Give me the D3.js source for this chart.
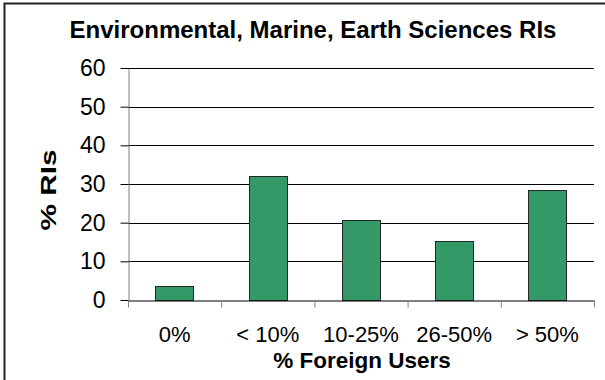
<!DOCTYPE html>
<html>
<head>
<meta charset="utf-8">
<script src="https://cdn.jsdelivr.net/npm/d3@7"></script>
<style>
  body { margin: 0; background: #fff; }
  svg { display: block; font-family: "Liberation Sans", Arial, sans-serif; }
</style>
</head>
<body>
<div id="chart"></div>
<script>
// data
var categories = ["0%", "< 10%", "10-25%", "26-50%", "> 50%"];
var percentRIs = [3.6, 32.0, 20.6, 15.2, 28.4];
var yTicks = [0, 10, 20, 30, 40, 50, 60];

var chartTitle = "Environmental, Marine, Earth Sciences RIs";
var xTitle = "% Foreign Users";
var yTitle = "% RIs";

var W = 605, H = 380;
// plot area inside the frame
var margin = { top: 68, right: 11, bottom: 80, left: 128 };
var width = W - margin.left - margin.right;
var height = H - margin.top - margin.bottom;

var svg = d3.select("#chart").append("svg")
  .attr("width", W)
  .attr("height", H);

// outer frame (only top and left edges land inside the picture)
svg.append("rect")
  .attr("x", 4.5).attr("y", 3.5)
  .attr("width", W + 10).attr("height", H + 10)
  .attr("fill", "none")
  .attr("stroke", "#222")
  .attr("stroke-width", 2);

var g = svg.append("g")
  .attr("transform", "translate(" + margin.left + "," + margin.top + ")");

var x = d3.scaleBand().domain(categories).range([0, width]).paddingInner(0.59).paddingOuter(0.295);
var xEdge = d3.scaleLinear().domain([0, categories.length]).range([0, width]);
var y = d3.scaleLinear().domain([0, 60]).range([height, 0]);

// gridlines
g.append("g")
  .selectAll("line")
  .data(yTicks.filter(function(d) { return d > 0; }))
  .enter().append("line")
  .attr("x1", 0).attr("x2", width)
  .attr("y1", function(d) { return Math.round(y(d)) + 0.5; })
  .attr("y2", function(d) { return Math.round(y(d)) + 0.5; })
  .attr("stroke", "#000");

// bars
g.append("g")
  .selectAll("rect")
  .data(percentRIs)
  .enter().append("rect")
  .attr("x", function(d, i) { return Math.round(x(categories[i])) + 0.5; })
  .attr("y", function(d) { return Math.round(y(d)) + 0.5; })
  .attr("width", Math.round(x.bandwidth()))
  .attr("height", function(d) { return Math.round(height - y(d)); })
  .attr("fill", "#339966")
  .attr("stroke", "#262626")
  .attr("stroke-width", 1);

// y axis
var yAxis = g.append("g")
  .attr("transform", "translate(0.5,0)")
  .call(d3.axisLeft(y).tickValues(yTicks).tickSize(8).tickPadding(15).tickSizeOuter(0));
yAxis.select(".domain").attr("stroke", "#808080");
yAxis.selectAll(".tick line").attr("stroke", "#000");
yAxis.selectAll("text")
  .attr("font-size", 23)
  .attr("font-family", "Liberation Sans, Arial, sans-serif")
  .attr("fill", "#000");

// x axis: boundary ticks
var xTickAxis = g.append("g")
  .attr("transform", "translate(0," + (height + 0.5) + ")")
  .call(d3.axisBottom(xEdge).tickValues(d3.range(categories.length + 1)).tickFormat("").tickSize(7).tickSizeOuter(0));
xTickAxis.select(".domain").attr("stroke", "#000");
xTickAxis.selectAll(".tick line").attr("stroke", "#808080");

// x axis: category labels
var xLabelAxis = g.append("g")
  .attr("transform", "translate(0," + height + ")")
  .call(d3.axisBottom(x).tickSize(0).tickPadding(26));
xLabelAxis.select(".domain").remove();
xLabelAxis.selectAll("text")
  .attr("font-size", 22)
  .attr("font-family", "Liberation Sans, Arial, sans-serif")
  .attr("fill", "#000");

// titles
svg.append("text")
  .attr("x", 313).attr("y", 38)
  .attr("text-anchor", "middle")
  .attr("font-size", 24)
  .attr("font-weight", "bold")
  .text(chartTitle);

svg.append("text")
  .attr("x", 362).attr("y", 368)
  .attr("text-anchor", "middle")
  .attr("font-size", 22.5)
  .attr("font-weight", "bold")
  .text(xTitle);

svg.append("text")
  .attr("transform", "translate(56,190) rotate(-90)")
  .attr("text-anchor", "middle")
  .attr("font-size", 22)
  .attr("font-weight", "bold")
  .attr("textLength", 81)
  .attr("lengthAdjust", "spacingAndGlyphs")
  .text(yTitle);
</script>
</body>
</html>
